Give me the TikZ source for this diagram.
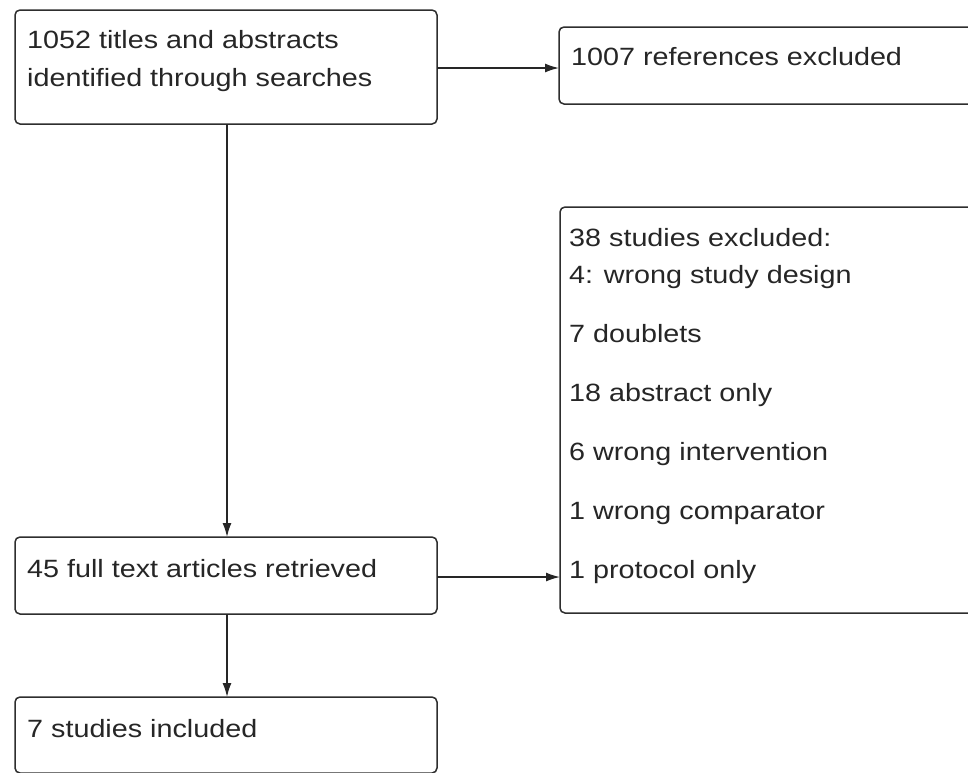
\documentclass[tikz,border=0pt]{standalone}
\usepackage{fontspec}
\setmainfont[FakeStretch=1.15]{Liberation Sans}
\usetikzlibrary{arrows.meta}
\begin{document}
\begin{tikzpicture}[x=1pt,y=-1pt,
  box/.style={rectangle, rounded corners=5pt,
    draw=black!82, line width=1.5pt, anchor=north west, inner sep=0pt, outer sep=0pt},
  txt/.style={anchor=base west, inner sep=0pt, font=\fontsize{25}{30}\selectfont, text=black!85},
  arr/.style={draw=black!85, line width=1.5pt, -{Latex[length=14pt,width=9pt]}}]
\clip (0,0) rectangle (968,772);
\fill[white] (0,0) rectangle (968,772);
\node[box, minimum width=422pt, minimum height=114pt] (b1) at (15,10) {};
\node[box, minimum width=430pt, minimum height=77pt] (b2) at (559,27) {};
\node[box, minimum width=430pt, minimum height=406pt] (b3) at (560,207) {};
\node[box, minimum width=422pt, minimum height=77pt] (b4) at (15,537) {};
\node[box, minimum width=422pt, minimum height=76pt] (b5) at (15,697) {};
\node[txt] (t1a) at (27,48) {1052 titles and abstracts};
\node[txt] (t1b) at (27,86) {identified through searches};
\node[txt] (t2) at (571,65) {1007 references excluded};
\node[txt] (t3a) at (569,246) {38 studies excluded:};
\node[txt] (t3b) at (569,283) {4: wrong study design};
\node[txt] (t3c) at (569,342) {7 doublets};
\node[txt] (t3d) at (569,401) {18 abstract only};
\node[txt] (t3e) at (569,460) {6 wrong intervention};
\node[txt] (t3f) at (569,519) {1 wrong comparator};
\node[txt] (t3g) at (569,578) {1 protocol only};
\node[txt] (t4) at (27,577) {45 full text articles retrieved};
\node[txt] (t5) at (27,737) {7 studies included};
\coordinate (p1) at (227,124);
\coordinate (p4) at (227,537);
\coordinate (q4) at (227,614);
\coordinate (p5) at (227,697);
\draw[arr] (p1) -- (p4);
\draw[arr] (q4) -- (p5);
\draw[arr] (b1.east |- 0,68) -- (b2.west |- 0,68);
\draw[arr] (b4.east |- 0,577) -- (b3.west |- 0,577);
\end{tikzpicture}
\end{document}
